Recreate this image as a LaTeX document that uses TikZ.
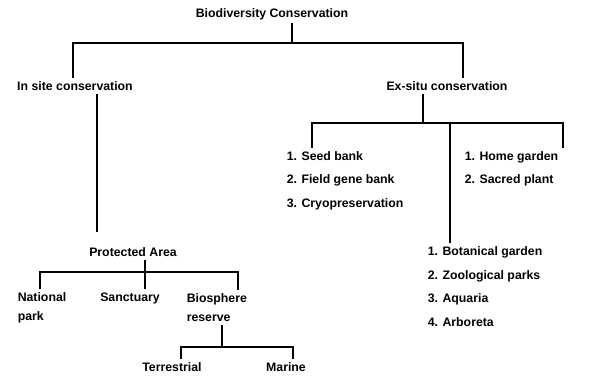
\documentclass[tikz,border=0pt]{standalone}
\usepackage{fontspec}
\setmainfont{Liberation Sans}
\begin{document}
\begin{tikzpicture}[x=1pt,y=-1pt,line width=1.5pt,
  every node/.style={font=\bfseries\fontsize{12.3}{14}\selectfont,inner sep=3pt},
  lst/.style={align=left,anchor=west,font=\bfseries\fontsize{12.3}{23.5}\selectfont},
  twoline/.style={align=left,anchor=west,font=\bfseries\fontsize{12.3}{19}\selectfont}]
\useasboundingbox (0,0) rectangle (590,379);

% nodes
\node (bio) at (272,14) {Biodiversity Conservation};
\node (insitu) at (75,86) {In site conservation};
\node (exsitu) at (447,86) {Ex-situ conservation};
\node[lst] (seed) at (283,180.5) {1. Seed bank\\2. Field gene bank\\3. Cryopreservation};
\node[lst] (home) at (461,169) {1. Home garden\\2. Sacred plant};
\node[lst] (bot) at (424,286.5) {1. Botanical garden\\2. Zoological parks\\3. Aquaria\\4. Arboreta};
\node (pa) at (133,252) {Protected Area};
\node[twoline] (np) at (14,307.5) {National\\park};
\node (sanc) at (130,298) {Sanctuary};
\node[twoline] (bsr) at (183,307.5) {Biosphere\\reserve};
\node (terr) at (172,367) {Terrestrial};
\node (mar) at (286,367) {Marine};

% junctions
\coordinate (j1) at (292,43);
\coordinate (j2) at (423,123);
\coordinate (j3) at (145,272);
\coordinate (j4) at (222,347);
\coordinate (x1) at (312,0);
\coordinate (x2) at (563,0);
\coordinate (x3) at (450,0);
\coordinate (x4) at (97,0);
\coordinate (x5) at (40,0);
\coordinate (x6) at (238,0);
\coordinate (x7) at (181,0);
\coordinate (x8) at (293,0);

% lines
\draw (bio.south -| j1) -- (j1);
\draw ([xshift=-2pt]insitu.north) |- (j1) -| ([xshift=16pt]exsitu.north);
\draw (exsitu.south -| j2) -- (j2);
\draw (seed.north -| x1) |- (j2) -| (home.north -| x2);
\draw (j2 -| x3) -- (bot.north -| x3);
\draw[shorten >=12pt] (insitu.south -| x4) -- (pa.north -| x4);
\draw (pa.south -| j3) -- (j3);
\draw (np.north -| x5) |- (j3) -| (bsr.north -| x6);
\draw (j3) -- (sanc.north -| j3);
\draw (bsr.south -| j4) -- (j4);
\draw (terr.north -| x7) |- (j4) -| (mar.north -| x8);

\end{tikzpicture}
\end{document}
